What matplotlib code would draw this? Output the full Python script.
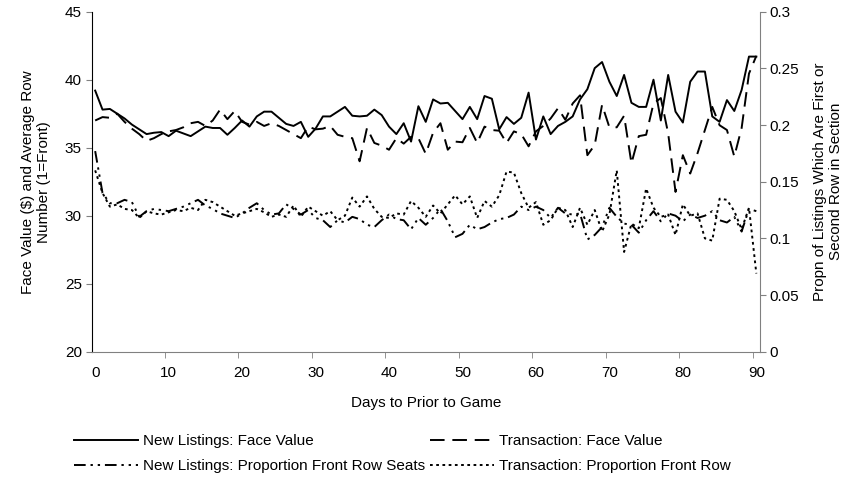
import matplotlib
matplotlib.use("Agg")
import matplotlib.pyplot as plt
from matplotlib.ticker import FixedLocator, FuncFormatter

plt.rcParams['font.family'] = ['Liberation Sans', 'DejaVu Sans']
plt.rcParams['font.size'] = 11

days = list(range(91))

# average face value of new listings ($)
nl_face = [39.2, 37.8, 37.85, 37.5, 37.15, 36.7, 36.35, 36.0, 36.1, 36.15,
           35.85, 36.25, 36.05, 35.85, 36.2, 36.55, 36.45, 36.45, 35.95, 36.45,
           37.0, 36.55, 37.3, 37.65, 37.65, 37.2, 36.75, 36.6, 36.9, 35.8,
           36.4, 37.3, 37.3, 37.65, 38.0, 37.35, 37.3, 37.35, 37.8, 37.4,
           36.55, 36.0, 36.8, 35.45, 38.05, 36.9, 38.55, 38.25, 38.3, 37.7,
           37.1, 38.0, 37.1, 38.8, 38.6, 36.35, 37.25, 36.75, 37.2, 39.05,
           35.6, 37.3, 36.0, 36.6, 36.9, 37.3, 38.55, 39.3, 40.85, 41.3,
           39.85, 38.8, 40.35, 38.3, 38.0, 38.0, 40.0, 37.0, 40.35, 37.65,
           36.85, 39.85, 40.6, 40.6, 37.3, 36.9, 38.5, 37.7, 39.25, 41.7,
           41.7]

# average face value of transactions ($)
tr_face = [37.0, 37.25, 37.2, 37.5, 36.9, 36.4, 36.0, 35.5, 35.7, 36.0,
           36.2, 36.3, 36.5, 36.8, 36.9, 36.6, 37.0, 37.8, 37.1, 37.7,
           36.9, 36.7, 36.9, 36.6, 36.8, 36.6, 36.3, 36.0, 35.7, 36.55,
           36.35, 36.4, 36.6, 35.95, 35.8, 35.7, 34.0, 36.45, 35.35, 35.15,
           34.85, 35.7, 35.3, 35.8, 35.7, 34.55, 36.1, 36.8, 34.85, 35.45,
           35.4, 36.45, 35.35, 36.55, 36.3, 36.25, 35.35, 36.2, 36.0, 35.1,
           36.2, 36.6, 37.15, 37.9, 37.05, 38.25, 38.85, 34.45, 35.2, 38.15,
           36.5, 36.5, 37.35, 33.85, 35.85, 35.95, 38.25, 38.65, 36.05, 31.75,
           34.45, 33.1, 34.6, 36.3, 38.0, 36.65, 36.3, 34.35, 36.45, 40.45,
           41.75]

# share of new listings in the first or second row
nl_prop = [0.177, 0.140, 0.131, 0.131, 0.134, 0.132, 0.119, 0.124, 0.126, 0.125,
           0.124, 0.126, 0.128, 0.131, 0.134, 0.129, 0.126, 0.122, 0.120, 0.118,
           0.122, 0.127, 0.131, 0.125, 0.121, 0.122, 0.130, 0.126, 0.121, 0.125,
           0.118, 0.116, 0.110, 0.116, 0.114, 0.119, 0.117, 0.112, 0.110, 0.116,
           0.121, 0.117, 0.116, 0.108, 0.118, 0.112, 0.118, 0.126, 0.115, 0.101,
           0.104, 0.112, 0.108, 0.110, 0.114, 0.117, 0.118, 0.121, 0.128, 0.125,
           0.128, 0.125, 0.118, 0.127, 0.122, 0.121, 0.122, 0.099, 0.103, 0.110,
           0.127, 0.119, 0.113, 0.112, 0.105, 0.116, 0.124, 0.115, 0.122, 0.120,
           0.115, 0.121, 0.118, 0.120, 0.124, 0.116, 0.114, 0.119, 0.106, 0.126,
           0.124]

# share of transactions in the first or second row
tr_prop = [0.160, 0.140, 0.128, 0.130, 0.126, 0.125, 0.118, 0.124, 0.122, 0.121,
           0.123, 0.125, 0.124, 0.127, 0.125, 0.134, 0.132, 0.128, 0.124, 0.120,
           0.122, 0.124, 0.126, 0.123, 0.119, 0.121, 0.119, 0.129, 0.119, 0.128,
           0.124, 0.120, 0.124, 0.116, 0.120, 0.136, 0.128, 0.137, 0.126, 0.119,
           0.118, 0.122, 0.121, 0.133, 0.127, 0.119, 0.129, 0.122, 0.130, 0.138,
           0.130, 0.137, 0.118, 0.133, 0.128, 0.138, 0.159, 0.158, 0.140, 0.127,
           0.132, 0.112, 0.116, 0.127, 0.125, 0.110, 0.127, 0.112, 0.125, 0.106,
           0.121, 0.160, 0.088, 0.113, 0.109, 0.144, 0.127, 0.119, 0.121, 0.103,
           0.130, 0.120, 0.122, 0.100, 0.098, 0.135, 0.134, 0.124, 0.108, 0.127,
           0.069]

fig = plt.figure(figsize=(8.59, 4.82), dpi=100)
ax = fig.add_axes([91.5 / 859, 1 - 351.7 / 482, (760 - 91.5) / 859, 340 / 482])
ax2 = ax.twinx()

l1, = ax.plot(days, nl_face, color='black', lw=1.4, label='New Listings: Face Value')
l2, = ax.plot(days, tr_face, color='black', lw=1.4, dashes=(7.5, 4),
              label='Transaction: Face Value')
l3, = ax2.plot(days, nl_prop, color='black', lw=1.4, dashes=(6, 2.5, 1.2, 2.5, 1.2, 2.5),
               label='New Listings: Proportion Front Row Seats')
l4, = ax2.plot(days, tr_prop, color='black', lw=1.4, dashes=(1.4, 1.8),
               label='Transaction: Proportion Front Row')

ax.set_xlim(-0.5, 90.5)
ax.set_ylim(20, 45)
ax.set_yticks(range(20, 46, 5))
ax2.set_ylim(0, 0.3)
ax2.set_yticks([0, 0.05, 0.1, 0.15, 0.2, 0.25, 0.3])
ax2.yaxis.set_major_formatter(FuncFormatter(lambda v, p: '%g' % round(v, 2)))

# labels sit on the day, tick marks sit between the day blocks
ax.set_xticks(range(0, 91, 10))
ax.xaxis.set_minor_locator(FixedLocator([d + 9.5 for d in range(0, 90, 10)]))
ax.tick_params(axis='x', which='major', length=0, pad=10)
ax.tick_params(axis='x', which='minor', length=4, color='#808080', direction='out')
ax.tick_params(axis='y', length=4, color='#808080', pad=3)
ax2.tick_params(axis='y', length=4, color='#808080', pad=3)

for a in (ax, ax2):
    a.spines['top'].set_visible(False)
ax.spines['right'].set_visible(False)
ax2.spines['left'].set_visible(False)
ax2.spines['bottom'].set_visible(False)
ax.spines['bottom'].set_color('#808080')
ax2.spines['right'].set_color('#808080')
ax.spines['left'].set_color('black')

ax.set_xlabel('Days to Prior to Game', labelpad=12)
ax.set_ylabel('Face Value ($) and Average Row\nNumber (1=Front)', labelpad=10)
ax2.set_ylabel('Propn of Listings Which Are First or\nSecond Row in Section', labelpad=10)

fig.legend(handles=[l1, l3, l2, l4], ncol=2, frameon=False,
           loc='upper left', bbox_to_anchor=(74 / 859, 1 - 434 / 482),
           borderpad=0, borderaxespad=0, handlelength=4.2, handletextpad=0.3,
           columnspacing=0.35, labelspacing=0.75)

fig.savefig('out.png', dpi=100)
